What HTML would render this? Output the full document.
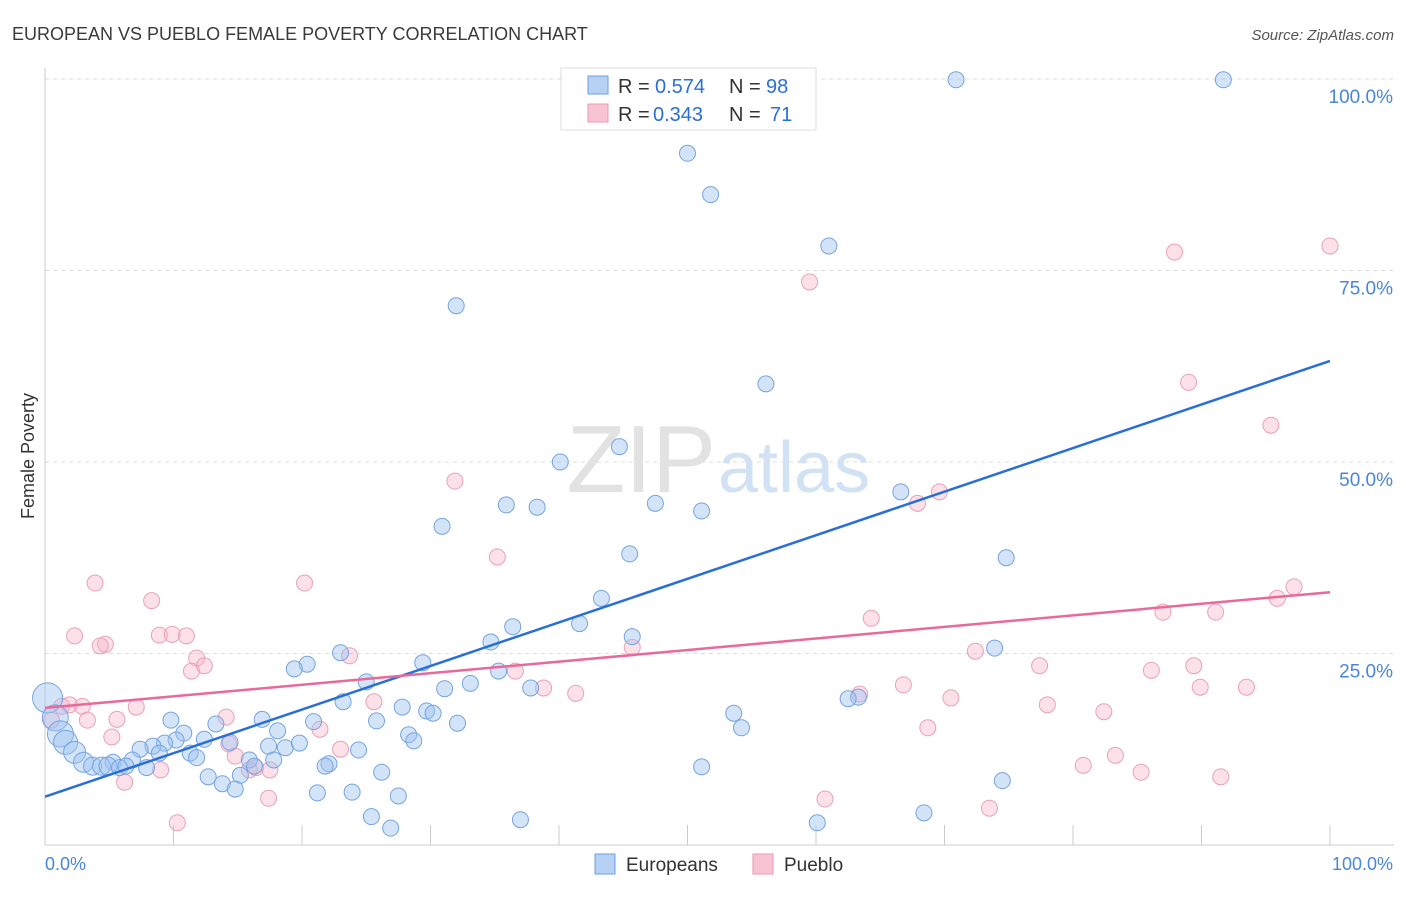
<!DOCTYPE html>
<html><head><meta charset="utf-8"><style>
body{margin:0;background:#fff;font-family:"Liberation Sans",sans-serif;}
svg text{font-family:"Liberation Sans",sans-serif;}
</style></head><body>
<svg width="1406" height="892" viewBox="0 0 1406 892">
<text x="12" y="40" font-size="18" fill="#3a3a3a">EUROPEAN VS PUEBLO FEMALE POVERTY CORRELATION CHART</text>
<text x="1394" y="40" font-size="15" fill="#555" text-anchor="end" font-style="italic">Source: ZipAtlas.com</text>
<text x="34" y="456" font-size="18" fill="#333" transform="rotate(-90 34 456)" text-anchor="middle">Female Poverty</text>
<g id="grid"></g>
<text x="716" y="492" font-size="96" fill="#e2e2e2" text-anchor="end" font-family="Liberation Serif">ZIP</text>
<text x="718" y="492" font-size="72" fill="#d2e2f5">atlas</text>
<g id="pts"></g>
<g id="trend"></g>
<g>
<rect x="561" y="68" width="255" height="62" fill="#fff" stroke="#ddd"/>
<rect x="588" y="76" width="20" height="18" fill="#b6d1f3" stroke="#6b9fe0"/>
<rect x="588" y="104" width="20" height="18" fill="#f8c3d3" stroke="#e89ab4"/>
<text x="618" y="93" font-size="20" fill="#333">R =</text>
<text x="655" y="93" font-size="20" fill="#2a6fd6">0.574</text>
<text x="729" y="93" font-size="20" fill="#333">N =</text>
<text x="766" y="93" font-size="20" fill="#2a6fd6">98</text>
<text x="618" y="121" font-size="20" fill="#333">R =</text>
<text x="653" y="121" font-size="20" fill="#2a6fd6">0.343</text>
<text x="729" y="121" font-size="20" fill="#333">N =</text>
<text x="770" y="121" font-size="20" fill="#2a6fd6">71</text>
</g>
<g>
<rect x="595" y="854" width="20" height="20" fill="#b6d1f3" stroke="#6b9fe0"/>
<text x="626" y="871" font-size="19" fill="#333">Europeans</text>
<rect x="753" y="854" width="20" height="20" fill="#f8c3d3" stroke="#e89ab4"/>
<text x="784" y="871" font-size="19" fill="#333">Pueblo</text>
</g>
<text x="45" y="870" font-size="18" fill="#4a86d8">0.0%</text>
<text x="1393" y="870" font-size="18" fill="#4a86d8" text-anchor="end">100.0%</text>
</svg>
<script>
const yTicks=[100,75,50,25];
const yTickLabels=["100.0%","75.0%","50.0%","25.0%"];
const xTicks=[0,10,20,30,40,50,60,70,80,90,100];
const blueX=[70.9,91.7,50.0,51.8,61.0,32.0,56.1,40.1,44.7,30.9,35.9,38.3,47.5,51.1,66.6,45.5,74.8,43.3,41.6,36.4,34.7,45.7,73.9,23.0,20.4,19.4,29.4,35.3,33.1,25.0,31.1,37.8,23.2,63.3,62.5,27.8,29.7,30.2,53.6,54.2,32.1,25.8,20.9,16.9,9.8,13.3,10.8,18.1,28.3,28.7,14.4,12.4,10.2,9.3,8.4,7.4,8.9,11.3,17.4,18.7,19.8,24.4,22.1,21.8,15.9,17.8,11.8,6.8,5.3,16.3,15.2,26.2,12.7,13.8,14.8,21.2,23.9,27.5,25.4,26.9,37.0,60.1,68.4,74.5,51.1,0.2,0.8,1.2,1.6,2.3,3.0,3.7,4.4,4.9,5.8,6.3,7.9];
const blueY=[99.9,99.9,90.3,84.9,78.2,70.4,60.2,50.0,52.0,41.6,44.4,44.1,44.6,43.6,46.1,38.0,37.5,32.2,28.9,28.5,26.5,27.2,25.7,25.1,23.6,23.0,23.8,22.7,21.1,21.3,20.4,20.5,18.7,19.3,19.1,18.0,17.5,17.2,17.2,15.3,15.9,16.2,16.1,16.4,16.3,15.8,14.6,14.9,14.4,13.6,13.4,13.8,13.7,13.3,12.9,12.5,12.0,12.0,12.9,12.7,13.3,12.4,10.6,10.3,11.1,11.1,11.4,11.1,10.8,10.3,9.1,9.5,8.9,8.0,7.3,6.8,6.9,6.4,3.7,2.2,3.3,2.9,4.2,8.4,10.2,19.2,16.6,14.5,13.4,12.1,10.8,10.3,10.3,10.3,10.1,10.3,10.1];
const blueR=[9,9,9,9,9,9,9,9,9,9,9,9,9,9,9,9,9,9,9,9,9,9,9,9,9,9,9,9,9,9,9,9,9,9,9,9,9,9,9,9,9,9,9,9,9,9,9,9,9,9,9,9,9,9,9,9,9,9,9,9,9,9,9,9,9,9,9,9,9,9,9,9,9,9,9,9,9,9,9,9,9,9,9,9,9,16,14,14,13,12,11,10,10,10,9,9,9];
const pinkX=[100,87.9,59.5,89.0,95.4,31.9,69.6,67.9,35.2,3.9,20.2,97.2,95.9,8.3,87.0,91.1,64.3,2.3,8.9,9.9,11.0,4.7,4.3,45.7,23.7,11.8,72.4,12.4,11.4,36.6,77.4,89.4,86.1,66.8,89.9,93.5,38.8,41.3,63.4,70.5,25.6,78.0,82.4,1.3,1.9,2.9,7.1,3.3,5.6,14.1,68.7,21.4,5.2,14.3,23.0,83.3,14.8,16.4,15.9,17.5,9.0,80.8,85.3,91.5,6.2,17.4,60.7,73.5,10.3,0.5];
const pinkY=[78.2,77.4,73.5,60.4,54.8,47.5,46.1,44.6,37.6,34.2,34.2,33.7,32.2,31.9,30.4,30.4,29.6,27.3,27.4,27.5,27.3,26.2,26.0,25.8,24.7,24.4,25.3,23.4,22.7,22.7,23.4,23.4,22.8,20.9,20.6,20.6,20.5,19.8,19.7,19.2,18.7,18.3,17.4,18.1,18.3,18.1,18.0,16.3,16.4,16.7,15.3,15.1,14.1,13.2,12.5,11.7,11.6,10.1,9.8,9.8,9.8,10.4,9.5,8.9,8.2,6.1,6.0,4.8,2.9,16.3];
const trendIntercept=[6.3,17.9];
const trendSlope=[0.569,0.151];
const X0=45,X1=1330,YT=79,YB=845;
const sx=v=>X0+(X1-X0)*v/100;
const sy=v=>YB-(YB-YT)*v/100;
const NS="http://www.w3.org/2000/svg";
function mk(t,a,p){const e=document.createElementNS(NS,t);for(const k in a)e.setAttribute(k,a[k]);p.appendChild(e);return e;}
const grid=document.getElementById('grid');
yTicks.forEach((v,i)=>{
 const l=mk('line',{x1:X0,x2:1394,y1:sy(v),y2:sy(v),stroke:'#ddd','stroke-dasharray':'4,4'},grid);
 
 
 const t=mk('text',{x:1393,y:sy(v)+24,'font-size':19,fill:'#4a86d8','text-anchor':'end'},grid);
 t.textContent=yTickLabels[i];
 
 
});
const ax=mk('line',{x1:X0,x2:X0,y1:68,y2:YB,stroke:'#ccc'},grid);


const bx=mk('line',{x1:X0,x2:1394,y1:YB,y2:YB,stroke:'#ccc'},grid);


xTicks.forEach(v=>{
 const l=mk('line',{x1:sx(v),x2:sx(v),y1:825,y2:YB,stroke:'#ccc'},grid);
 
 
});
const pts=document.getElementById('pts');
pinkX.forEach((v,i)=>{
 const c=mk('circle',{cx:sx(v),cy:sy(pinkY[i]),r:8,fill:'rgba(248,180,200,0.4)',stroke:'#eaa0ba','stroke-width':1},pts);
 
 
});
blueX.forEach((v,i)=>{
 const c=mk('circle',{cx:sx(v),cy:sy(blueY[i]),r:blueR[i]-1,fill:'rgba(160,196,240,0.45)',stroke:'#74a4e0','stroke-width':1},pts);
 
 
});
const tr=document.getElementById('trend');
const cols=['#2a6fd6','#e8699a'],nm=['europeans-trendline','pueblo-trendline'];
[0,1].forEach(i=>{
 const l=mk('line',{x1:sx(0),y1:sy(trendIntercept[i]),x2:sx(100),y2:sy(trendIntercept[i]+trendSlope[i]*100),stroke:cols[i],'stroke-width':2.5},tr);
 
 
});
</script>
</body></html>
